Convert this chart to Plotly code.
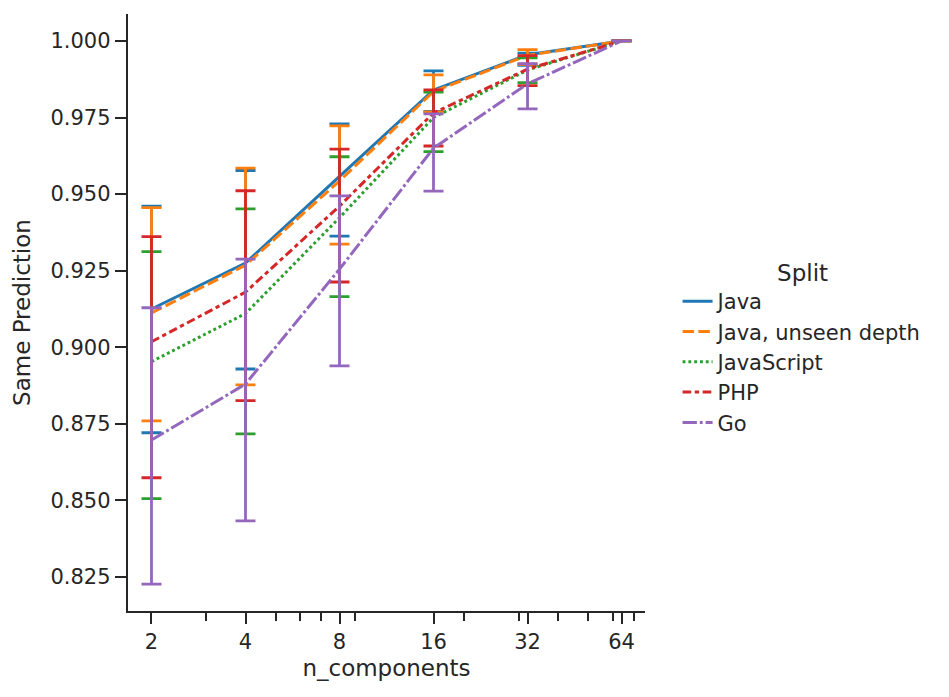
import plotly.graph_objects as go

n_components = [2, 4, 8, 16, 32, 64]

splits = ["Java", "Java, unseen depth", "JavaScript", "PHP", "Go"]

java_mean = [0.9125, 0.9275, 0.9558, 0.9840, 0.9955, 1.0]
java_hi = [0.9461, 0.9577, 0.9729, 0.9902, 0.9960, 1.0]
java_lo = [0.8721, 0.8929, 0.9363, 0.9770, 0.9920, 1.0]

unseen_mean = [0.9112, 0.9268, 0.9543, 0.9835, 0.9953, 1.0]
unseen_hi = [0.9456, 0.9585, 0.9723, 0.9889, 0.9972, 1.0]
unseen_lo = [0.8760, 0.8877, 0.9337, 0.9768, 0.9924, 1.0]

js_mean = [0.8953, 0.9110, 0.9423, 0.9750, 0.9905, 1.0]
js_hi = [0.9312, 0.9452, 0.9622, 0.9833, 0.9945, 1.0]
js_lo = [0.8506, 0.8717, 0.9165, 0.9639, 0.9864, 1.0]

php_mean = [0.9018, 0.9180, 0.9461, 0.9765, 0.9908, 1.0]
php_hi = [0.9361, 0.9511, 0.9647, 0.9840, 0.9952, 1.0]
php_lo = [0.8574, 0.8826, 0.9213, 0.9657, 0.9854, 1.0]

go_mean = [0.8697, 0.8880, 0.9255, 0.9650, 0.9860, 1.0]
go_hi = [0.9129, 0.9288, 0.9494, 0.9762, 0.9926, 1.0]
go_lo = [0.8227, 0.8433, 0.8939, 0.9510, 0.9778, 1.0]

y_ticks = [0.825, 0.85, 0.875, 0.9, 0.925, 0.95, 0.975, 1.0]
x_minor = [3, 5, 6, 7, 9, 20, 30, 40, 50, 60, 70]

series = {
    "Java": (java_mean, java_hi, java_lo),
    "Java, unseen depth": (unseen_mean, unseen_hi, unseen_lo),
    "JavaScript": (js_mean, js_hi, js_lo),
    "PHP": (php_mean, php_hi, php_lo),
    "Go": (go_mean, go_hi, go_lo),
}

colors = {
    "Java": "#1f77b4",
    "Java, unseen depth": "#ff7f0e",
    "JavaScript": "#2ca02c",
    "PHP": "#d62728",
    "Go": "#9467bd",
}

dashes = {
    "Java": "solid",
    "Java, unseen depth": "11.5px,4.3px",
    "JavaScript": "2.9px,2.9px",
    "PHP": "8.6px,3.6px,4.3px,3.6px",
    "Go": "14.3px,2.9px,2.9px,2.9px",
}

ink = "#262626"

fig = go.Figure()

for key in splits:
    mean, hi, lo = series[key]
    fig.add_trace(
        go.Scatter(
            x=n_components,
            y=mean,
            name=key,
            mode="lines",
            line=dict(color=colors[key], width=3, dash=dashes[key]),
            error_y=dict(
                type="data",
                symmetric=False,
                array=[h - m for h, m in zip(hi, mean)],
                arrayminus=[m - l for m, l in zip(mean, lo)],
                color=colors[key],
                thickness=2.8,
                width=10,
            ),
        )
    )

# page body adds ~8px offset, so the figure is a bit smaller than the window
fig.update_layout(
    width=941,
    height=689,
    margin=dict(l=120, r=304, t=6, b=86),
    plot_bgcolor="white",
    paper_bgcolor="white",
    font=dict(family="DejaVu Sans", size=21, color=ink),
    showlegend=True,
    legend=dict(
        title=dict(text="Split", side="top center", font=dict(size=23)),
        x=1.063,
        xanchor="left",
        y=0.442,
        yanchor="middle",
        font=dict(size=21),
        bgcolor="rgba(0,0,0,0)",
    ),
    xaxis=dict(
        type="log",
        range=[0.2258, 1.8814],
        tickvals=n_components,
        ticktext=[str(v) for v in n_components],
        ticks="outside",
        ticklen=11,
        tickwidth=2.3,
        tickcolor=ink,
        showline=True,
        linecolor=ink,
        linewidth=2.4,
        showgrid=False,
        zeroline=False,
        title=dict(text="n_components", font=dict(size=23), standoff=6),
        minor=dict(
            tickvals=x_minor,
            ticks="outside",
            ticklen=7.5,
            tickwidth=1.8,
            tickcolor=ink,
            showgrid=False,
        ),
    ),
    yaxis=dict(
        range=[0.8139, 1.0088],
        tickvals=y_ticks,
        tickformat=".3f",
        ticks="outside",
        ticklen=11,
        tickwidth=2.3,
        tickcolor=ink,
        showline=True,
        linecolor=ink,
        linewidth=2.4,
        showgrid=False,
        zeroline=False,
        title=dict(text="Same Prediction", font=dict(size=23), standoff=13),
    ),
)

fig.write_html("out.html")
